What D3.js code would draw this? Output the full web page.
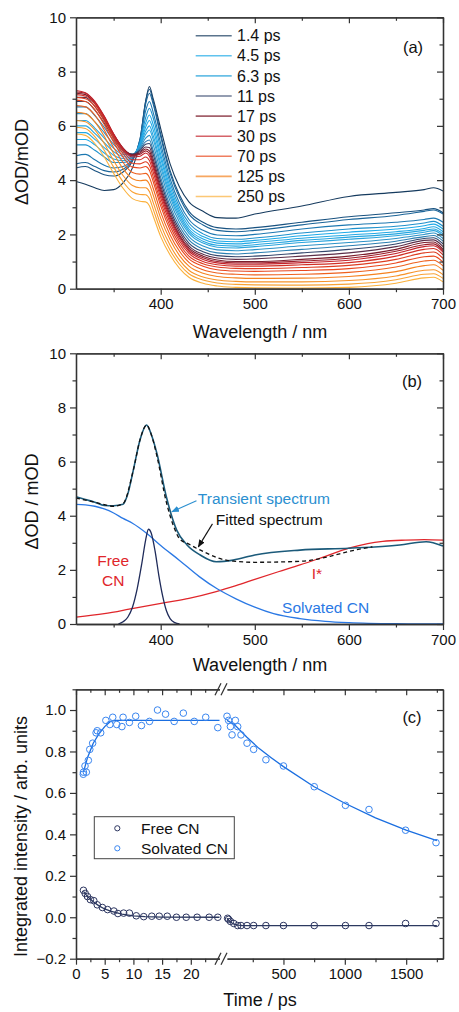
<!DOCTYPE html>
<html><head><meta charset="utf-8">
<script src="https://cdn.jsdelivr.net/npm/d3@7"></script>
<style>
body{margin:0;background:#fff}
text{font-family:"Liberation Sans",Arial,sans-serif}
</style>
</head><body>
<svg id="chart" width="459" height="1012"></svg>
<script>
// ---------- panel (a): transient spectra at many delays ----------
const wlA = [310,320,330,340,350,360,370,378,384,388,392,400,410,420,430,445,460,480,500,550,600,650,680,690,700];
const delays = [1.4,2.0,2.6,3.2,3.8,4.5,5.0,5.6,6.3,7.5,9,11,14,17,22,30,40,55,70,90,125,160,200,250];
const spectra = [
  [3.95,3.85,3.72,3.62,3.65,3.9,4.45,5.4,6.9,7.45,7.0,5.9,4.6,3.75,3.2,2.85,2.62,2.6,2.75,3.05,3.4,3.55,3.65,3.72,3.6],
  [4.45,4.5,4.35,4.2,4.15,4.3,4.7,5.5,6.9,7.35,6.9,5.7,4.35,3.45,2.85,2.45,2.25,2.2,2.25,2.45,2.65,2.8,2.9,2.95,2.8],
  [4.6,4.65,4.5,4.35,4.3,4.4,4.75,5.5,6.8,7.2,6.8,5.6,4.25,3.35,2.75,2.35,2.15,2.1,2.15,2.35,2.55,2.7,2.85,2.9,2.75],
  [4.9,4.95,4.75,4.55,4.45,4.5,4.8,5.45,6.55,6.9,6.5,5.35,4.05,3.15,2.55,2.15,1.98,1.95,2.0,2.2,2.35,2.45,2.55,2.6,2.45],
  [5.3,5.3,5.1,4.85,4.65,4.65,4.85,5.4,6.3,6.65,6.3,5.15,3.9,3.0,2.42,2.02,1.85,1.82,1.87,2.05,2.2,2.3,2.42,2.48,2.3],
  [5.5,5.5,5.3,5.0,4.78,4.72,4.88,5.35,6.1,6.4,6.05,4.95,3.75,2.88,2.3,1.92,1.76,1.73,1.78,1.95,2.08,2.2,2.32,2.38,2.2],
  [5.75,5.75,5.5,5.2,4.92,4.8,4.9,5.3,5.95,6.2,5.85,4.8,3.62,2.78,2.2,1.83,1.68,1.65,1.7,1.86,1.98,2.1,2.22,2.28,2.1],
  [6.0,6.0,5.72,5.38,5.05,4.88,4.92,5.28,5.8,6.0,5.65,4.62,3.5,2.68,2.12,1.75,1.6,1.57,1.62,1.78,1.9,2.02,2.15,2.2,2.02],
  [6.2,6.2,5.92,5.55,5.18,4.95,4.95,5.25,5.68,5.85,5.5,4.48,3.38,2.58,2.04,1.68,1.53,1.5,1.55,1.7,1.82,1.95,2.08,2.14,1.95],
  [6.45,6.45,6.15,5.75,5.32,5.02,4.95,5.2,5.55,5.65,5.3,4.3,3.22,2.45,1.92,1.57,1.43,1.4,1.44,1.58,1.7,1.85,2.0,2.05,1.85],
  [6.7,6.7,6.38,5.95,5.45,5.08,4.95,5.15,5.42,5.48,5.1,4.1,3.05,2.3,1.8,1.46,1.32,1.28,1.32,1.45,1.58,1.75,1.92,1.96,1.75],
  [6.9,6.9,6.58,6.1,5.55,5.12,4.95,5.1,5.32,5.35,4.95,3.95,2.92,2.18,1.68,1.36,1.22,1.18,1.2,1.32,1.45,1.65,1.85,1.88,1.65],
  [7.05,7.05,6.72,6.22,5.62,5.15,4.95,5.05,5.22,5.2,4.78,3.8,2.8,2.08,1.58,1.27,1.13,1.08,1.1,1.2,1.32,1.55,1.78,1.8,1.55],
  [7.2,7.15,6.82,6.3,5.68,5.18,4.92,5.0,5.15,5.08,4.65,3.68,2.7,1.98,1.5,1.2,1.06,1.0,1.0,1.08,1.2,1.45,1.7,1.72,1.45],
  [7.25,7.2,6.88,6.35,5.7,5.18,4.9,4.95,5.08,4.98,4.55,3.58,2.62,1.92,1.44,1.14,1.0,0.95,0.95,1.02,1.12,1.38,1.62,1.65,1.4],
  [7.3,7.22,6.9,6.35,5.7,5.15,4.85,4.88,5.0,4.88,4.45,3.48,2.54,1.85,1.38,1.08,0.95,0.9,0.9,0.96,1.05,1.3,1.55,1.58,1.35],
  [7.15,7.1,6.82,6.28,5.62,5.08,4.75,4.75,4.85,4.72,4.3,3.35,2.43,1.76,1.3,1.0,0.88,0.83,0.83,0.88,0.96,1.2,1.45,1.48,1.25],
  [7.05,7.0,6.72,6.18,5.52,4.98,4.62,4.6,4.68,4.55,4.12,3.2,2.3,1.65,1.2,0.92,0.8,0.75,0.74,0.78,0.86,1.08,1.32,1.35,1.12],
  [6.95,6.9,6.6,6.05,5.4,4.85,4.48,4.45,4.5,4.36,3.95,3.05,2.16,1.53,1.1,0.83,0.7,0.65,0.64,0.67,0.74,0.95,1.18,1.2,0.98],
  [6.75,6.7,6.4,5.85,5.2,4.65,4.28,4.22,4.25,4.1,3.7,2.82,1.98,1.38,0.97,0.7,0.58,0.53,0.51,0.53,0.6,0.8,1.02,1.05,0.84],
  [6.5,6.45,6.15,5.62,4.98,4.42,4.05,3.98,4.0,3.85,3.45,2.6,1.8,1.22,0.83,0.57,0.45,0.4,0.38,0.39,0.45,0.63,0.85,0.88,0.68],
  [6.2,6.15,5.85,5.35,4.72,4.17,3.8,3.72,3.72,3.58,3.18,2.36,1.6,1.05,0.68,0.43,0.32,0.27,0.25,0.25,0.3,0.47,0.68,0.7,0.52],
  [5.95,5.9,5.6,5.1,4.48,3.94,3.56,3.47,3.46,3.32,2.93,2.14,1.42,0.9,0.55,0.32,0.21,0.16,0.14,0.13,0.17,0.33,0.53,0.55,0.38],
  [5.7,5.65,5.35,4.85,4.25,3.7,3.32,3.22,3.2,3.06,2.68,1.92,1.24,0.75,0.42,0.2,0.1,0.05,0.03,0.02,0.05,0.2,0.4,0.42,0.25]
];
const legendDelays = ["1.4 ps","4.5 ps","6.3 ps","11 ps","17 ps","30 ps","70 ps","125 ps","250 ps"];
const legendTimes = [1.4,4.5,6.3,11,17,30,70,125,250];

// ---------- panel (b): decomposition of one spectrum ----------
const wlT = [310,320,330,340,350,360,365,371,378,385,390,396,406,417,428,442,459,477,500,548,600,654,682,700];
const transient = [4.7,4.6,4.5,4.38,4.37,4.42,4.8,5.7,6.8,7.35,7.0,6.3,4.7,3.47,2.92,2.55,2.3,2.36,2.55,2.73,2.8,2.92,3.04,2.88];
const wlF = [310,330,350,360,371,378,385,390,396,406,415,420,430,438,450,460,477,500,550,580,600,625];
const fitted = [4.65,4.5,4.35,4.45,5.7,6.8,7.35,7.0,6.2,4.5,3.5,3.15,2.95,2.8,2.6,2.45,2.32,2.28,2.32,2.5,2.68,2.85];
const wlS = [310,320,330,340,350,360,370,385,400,420,441,460,480,500,520,548,575,600,650,700];
const solvated = [4.42,4.4,4.35,4.25,4.1,3.9,3.72,3.35,2.9,2.35,1.75,1.3,0.93,0.62,0.38,0.2,0.1,0.05,0.01,0.0];
const wlC = [355,360,365,370,375,380,384,387,390,394,398,402,406,410,415,420];
const freeCN = [0,0.08,0.25,0.62,1.3,2.25,3.1,3.5,3.35,2.7,1.8,1.05,0.5,0.2,0.05,0];
const wlI = [310,340,371,406,430,459,480,500,525,548,575,600,620,636,660,680,700];
const iStar = [0.25,0.38,0.58,0.8,0.95,1.2,1.42,1.65,1.93,2.18,2.5,2.8,2.97,3.05,3.1,3.12,3.1];

// ---------- panel (c): integrated intensities ----------
const solvTimeL = [1.27,1.57,2.15,2.4,2.9,3.5,4.3,5.2,5.9,6.4,7.1,8.0,8.2,9.3,10.4,11.4,12.8,14.2,15.6,17.1,18.7,20.6,22.6,24.7,1.3,1.8,3.7];
const solvValL = [0.69,0.73,0.757,0.81,0.84,0.89,0.89,0.95,0.93,0.965,0.93,0.92,0.965,0.94,0.97,0.925,0.945,1.0,0.98,0.945,0.985,0.945,0.965,0.915,0.70,0.70,0.90];
const solvTimeR = [40,53,68,81,108,127,154,203,257,357,500,751,1005,1197,1495,1743];
const solvValR = [0.97,0.95,0.92,0.88,0.95,0.92,0.88,0.84,0.81,0.76,0.73,0.63,0.54,0.52,0.42,0.36];
const freeTimeL = [1.3,1.6,2.0,2.5,3.1,3.7,4.6,5.5,6.6,7.3,8.3,9.3,10.5,11.8,13.2,14.5,15.9,17.5,19.2,21.1,23.2,24.7];
const freeValL = [0.13,0.115,0.10,0.085,0.08,0.06,0.047,0.037,0.03,0.018,0.02,0.02,0.007,0.003,0.005,0.005,0.005,0,0,0,0,0];
const freeTimeR = [45,53,68,95,127,154,203,257,357,500,751,1005,1197,1495,1743];
const freeValR = [-0.005,-0.01,-0.02,-0.03,-0.04,-0.04,-0.04,-0.04,-0.04,-0.04,-0.04,-0.04,-0.04,-0.03,-0.03];
const solvFitTL = [1.3,2,3,4,5,6,7,25];
const solvFitVL = [0.70,0.77,0.84,0.885,0.92,0.945,0.95,0.95];
const solvFitTR = [40,100,200,300,400,500,750,1000,1250,1500,1750];
const solvFitVR = [0.95,0.93,0.87,0.815,0.77,0.727,0.63,0.55,0.48,0.42,0.37];
const freeFitTL = [1.3,2,3,4,5,6,7,8,10,12,15,25];
const freeFitVL = [0.125,0.1,0.075,0.055,0.04,0.03,0.022,0.015,0.007,0.003,0.001,0];
const freeFitTR = [40,60,80,100,130,170,1750];
const freeFitVR = [-0.005,-0.018,-0.028,-0.034,-0.038,-0.04,-0.04];

const svg = d3.select("#chart");
const AX = "#333";

function styleAxis(sel) {
  sel.select(".domain").attr("stroke", AX).attr("stroke-width", 1.3);
  sel.selectAll(".tick line").attr("stroke", AX).attr("stroke-width", 1.2);
  sel.selectAll(".tick text").attr("font-size", 15).style("fill", "#111")
    .attr("font-family", '"Liberation Sans",Arial,sans-serif');
}

function hAxes(x, yTop, yBot, maj, min, labels) {
  svg.append("g").attr("transform", `translate(0,${yBot})`)
    .call(d3.axisBottom(x).tickValues(maj).tickSize(6).tickSizeOuter(0).tickPadding(4)
      .tickFormat(labels ? d3.format("d") : "")).call(styleAxis);
  svg.append("g").attr("transform", `translate(0,${yBot})`)
    .call(d3.axisBottom(x).tickValues(min).tickSize(3.5).tickSizeOuter(0).tickFormat("")).call(styleAxis);
  svg.append("g").attr("transform", `translate(0,${yTop})`)
    .call(d3.axisTop(x).tickValues(maj).tickSize(-6).tickSizeOuter(0).tickFormat("")).call(styleAxis);
  svg.append("g").attr("transform", `translate(0,${yTop})`)
    .call(d3.axisTop(x).tickValues(min).tickSize(-3.5).tickSizeOuter(0).tickFormat("")).call(styleAxis);
}

function vAxes(y, xL, xR, maj, min, fmt) {
  svg.append("g").attr("transform", `translate(${xL},0)`)
    .call(d3.axisLeft(y).tickValues(maj).tickSize(6).tickSizeOuter(0).tickPadding(4).tickFormat(fmt)).call(styleAxis);
  svg.append("g").attr("transform", `translate(${xL},0)`)
    .call(d3.axisLeft(y).tickValues(min).tickSize(3.5).tickSizeOuter(0).tickFormat("")).call(styleAxis);
  svg.append("g").attr("transform", `translate(${xR},0)`)
    .call(d3.axisRight(y).tickValues(maj).tickSize(-6).tickSizeOuter(0).tickFormat("")).call(styleAxis);
  svg.append("g").attr("transform", `translate(${xR},0)`)
    .call(d3.axisRight(y).tickValues(min).tickSize(-3.5).tickSizeOuter(0).tickFormat("")).call(styleAxis);
}

function label(x, y, txt, size, rot, color, anchor) {
  svg.append("text").attr("x", x).attr("y", y).attr("dy", "0.35em")
    .attr("text-anchor", anchor || "middle").attr("font-size", size)
    .style("fill", color || "#111")
    .attr("transform", rot ? `rotate(-90,${x},${y})` : null).text(txt);
}

// ================= Panel (a) =================
const xA = d3.scaleLinear([310, 700], [76, 443]);
const yA = d3.scaleLinear([0, 10], [288.7, 17.3]);
const color = d3.scaleLog()
  .domain([1.4, 3, 4.5, 6.3, 9, 11, 17, 30, 70, 125, 250])
  .range(["#153a5e", "#1d6ea6", "#1eaae8", "#2aa4dc", "#2c7fb2", "#34466c", "#7c1d2c", "#c4222a", "#e9481e", "#f5821f", "#fbb13c"])
  .interpolate(d3.interpolateRgb);

const lineA = d3.line().x((d, i) => xA(wlA[i])).y(d => yA(d)).curve(d3.curveMonotoneX);
svg.append("g").selectAll("path").data(spectra).join("path")
  .attr("d", lineA).attr("fill", "none")
  .attr("stroke", (d, i) => color(delays[i])).attr("stroke-width", 1.1);

hAxes(xA, 17.3, 288.7, [400, 500, 600, 700], [350, 450, 550, 650], true);
vAxes(yA, 76, 443, [0, 2, 4, 6, 8, 10], [1, 3, 5, 7, 9], d3.format("d"));

const legA = svg.append("g");
legendDelays.forEach((t, i) => {
  const yy = 35.7 + i * 20.1;
  legA.append("line").attr("x1", 195.7).attr("x2", 231.7).attr("y1", yy).attr("y2", yy)
    .attr("stroke", color(legendTimes[i])).attr("stroke-width", 1.6).attr("opacity", 0.7);
  legA.append("text").attr("x", 237).attr("y", yy).attr("dy", "0.35em")
    .attr("font-size", 16).style("fill", "#111").text(t);
});
label(413, 47.5, "(a)", 16.5);
label(260, 332, "Wavelength / nm", 18);
label(21.5, 162, "ΔOD/mOD", 18, true);

// ================= Panel (b) =================
const xB = d3.scaleLinear([310, 700], [76, 443]);
const yB = d3.scaleLinear([0, 10], [624, 353.3]);
function lineB(xs) {
  return d3.line().x((d, i) => xB(xs[i])).y(d => yB(d)).curve(d3.curveMonotoneX);
}
svg.append("path").attr("d", lineB(wlI)(iStar)).attr("fill", "none").attr("stroke", "#e0262b").attr("stroke-width", 1.3);
svg.append("path").attr("d", lineB(wlS)(solvated)).attr("fill", "none").attr("stroke", "#2a78e4").attr("stroke-width", 1.3);
svg.append("path").attr("d", lineB(wlC)(freeCN)).attr("fill", "none").attr("stroke", "#1f2b5a").attr("stroke-width", 1.3);
svg.append("path").attr("d", lineB(wlT)(transient)).attr("fill", "none").attr("stroke", "#1b5a7a").attr("stroke-width", 1.6);
svg.append("path").attr("d", lineB(wlF)(fitted)).attr("fill", "none").attr("stroke", "#111")
  .attr("stroke-width", 1.3).attr("stroke-dasharray", "4,3");

hAxes(xB, 353.3, 624, [400, 500, 600, 700], [350, 450, 550, 650], true);
vAxes(yB, 76, 443, [0, 2, 4, 6, 8, 10], [1, 3, 5, 7, 9], d3.format("d"));

const defs = svg.append("defs");
[["arrBlue", "#2b8fd0"], ["arrBlack", "#111"]].forEach(([id, c]) => {
  defs.append("marker").attr("id", id).attr("viewBox", "0 0 10 10").attr("refX", 9).attr("refY", 5)
    .attr("markerWidth", 7).attr("markerHeight", 7).attr("orient", "auto")
    .append("path").attr("d", "M0,1L10,5L0,9Z").attr("fill", c);
});
svg.append("line").attr("x1", xB(438)).attr("y1", yB(4.55)).attr("x2", xB(412)).attr("y2", yB(4.15))
  .attr("stroke", "#2b8fd0").attr("stroke-width", 1.1).attr("marker-end", "url(#arrBlue)");
svg.append("line").attr("x1", xB(455)).attr("y1", yB(3.7)).attr("x2", xB(440)).attr("y2", yB(2.85))
  .attr("stroke", "#111").attr("stroke-width", 1.1).attr("marker-end", "url(#arrBlack)");
label(xB(439.5), yB(4.62), "Transient spectrum", 15.5, false, "#2b8fd0", "start");
label(xB(458.6), yB(3.86), "Fitted spectrum", 15.5, false, "#111", "start");
label(xB(349.5), yB(2.36), "Free", 15.5, false, "#e0262b");
label(xB(349.5), yB(1.62), "CN", 15.5, false, "#e0262b");
label(xB(566), yB(1.85), "I*", 15.5, false, "#e0262b");
label(xB(529), yB(0.6), "Solvated CN", 15.5, false, "#2a78e4", "start");
label(412, 381.5, "(b)", 16.5);
label(260, 665, "Wavelength / nm", 18);
label(32, 501.5, "ΔOD / mOD", 18, true);

// ================= Panel (c) =================
const xC1 = d3.scaleLinear([0, 25], [76, 219.5]);
const xC2 = d3.scaleLinear([40, 1800], [227, 443]);
const yC = d3.scaleLinear([-0.2, 1.1], [958.7, 689.3]);

function fitLine(xs, ts, vs, col) {
  svg.append("path").attr("d", d3.line().x((d, i) => xs(ts[i])).y(d => yC(d))(vs))
    .attr("fill", "none").attr("stroke", col).attr("stroke-width", 1.3);
}
function pts(xs, ts, vs, col) {
  svg.append("g").selectAll("circle").data(vs).join("circle")
    .attr("cx", (d, i) => xs(ts[i])).attr("cy", d => yC(d)).attr("r", 3.3)
    .attr("fill", "none").attr("stroke", col).attr("stroke-width", 1);
}
fitLine(xC1, solvFitTL, solvFitVL, "#1a6ee0");
fitLine(xC2, solvFitTR, solvFitVR, "#1a6ee0");
fitLine(xC1, freeFitTL, freeFitVL, "#2c3a60");
fitLine(xC2, freeFitTR, freeFitVR, "#2c3a60");
pts(xC1, solvTimeL, solvValL, "#3a86f0");
pts(xC2, solvTimeR, solvValR, "#3a86f0");
pts(xC1, freeTimeL, freeValL, "#2c3560");
pts(xC2, freeTimeR, freeValR, "#2c3560");

hAxes(xC1, 689.3, 958.7, [0, 5, 10, 15, 20], [2.5, 7.5, 12.5, 17.5, 22.5], true);
hAxes(xC2, 689.3, 958.7, [500, 1000, 1500], [250, 750, 1250, 1750], true);
vAxes(yC, 76, 443, [-0.2, 0, 0.2, 0.4, 0.6, 0.8, 1.0], [-0.1, 0.1, 0.3, 0.5, 0.7, 0.9, 1.1], d3.format(".1f"));
// axis break marks
[689.3, 958.7].forEach(yy => {
  [218, 224].forEach(xx => {
    svg.append("line").attr("x1", xx - 3).attr("y1", yy + 6).attr("x2", xx + 3).attr("y2", yy - 6)
      .attr("stroke", AX).attr("stroke-width", 1.2);
  });
});

const legC = svg.append("g");
legC.append("rect").attr("x", 94.3).attr("y", 816.7).attr("width", 140).attr("height", 42)
  .attr("fill", "#fff").attr("stroke", "#444").attr("stroke-width", 1);
[["Free CN", "#2c3560"], ["Solvated CN", "#3a86f0"]].forEach(([t, c], i) => {
  const yy = 828.3 + i * 20;
  legC.append("circle").attr("cx", 117.3).attr("cy", yy).attr("r", 2.6)
    .attr("fill", "none").attr("stroke", c).attr("stroke-width", 1);
  legC.append("text").attr("x", 141).attr("y", yy).attr("dy", "0.35em").attr("font-size", 15.5)
    .style("fill", "#111").text(t);
});
label(412, 717, "(c)", 16.5);
label(260, 1000, "Time / ps", 18);
label(21, 836.5, "Integrated intensity / arb. units", 18, true);
</script>
</body></html>
